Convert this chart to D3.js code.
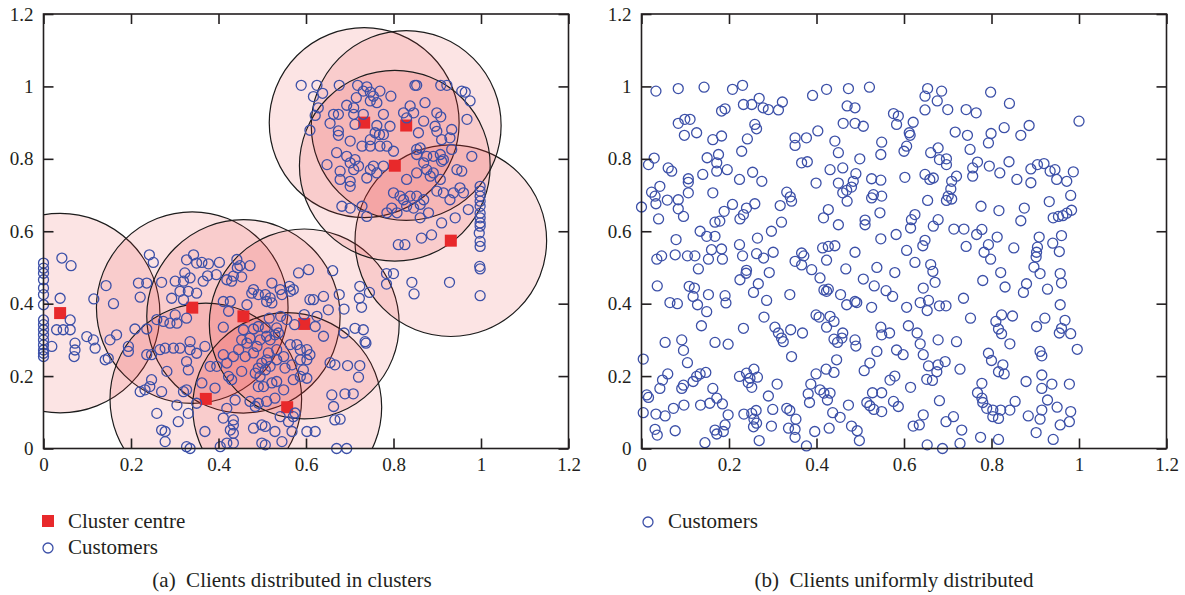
<!DOCTYPE html>
<html><head><meta charset="utf-8">
<script src="https://cdn.jsdelivr.net/npm/d3@7"></script>
<style>
body{margin:0;background:#fff}
svg{display:block}
text{font-family:"Liberation Serif","Times New Roman",serif;fill:#231f20}
</style>
</head><body>
<svg id="chart" width="1185" height="595"></svg>
<script>
const tickValues=[0,0.2,0.4,0.6,0.8,1,1.2];
const tickLabels=["0","0.2","0.4","0.6","0.8","1","1.2"];
const legendA=["Cluster centre","Customers"];
const legendB=["Customers"];
const captions=["(a)  Clients distributed in clusters","(b)  Clients uniformly distributed"];

const clusterCentres=[[0.038,0.374],[0.340,0.389],[0.457,0.365],[0.371,0.137],[0.557,0.114],[0.596,0.344],[0.931,0.574],[0.733,0.900],[0.829,0.892],[0.803,0.781]];
const clusterRadius=[0.228,0.219,0.221,0.219,0.216,0.217,0.219,0.217,0.217,0.218];

const clusteredCustomers=[
[0.589,1.003],[0.625,1.003],[0.676,1.003],[0.617,0.972],[0.638,0.981],[0.718,1.003],[0.739,0.999],[0.731,0.987],[0.747,0.984],[0.715,0.969],[0.754,0.973],[0.769,0.987],[0.794,0.973],[0.762,0.955],[0.747,0.960],[0.693,0.948],[0.709,0.941],[0.628,0.941],[0.621,0.920],[0.663,0.923],[0.674,0.923],[0.709,0.923],[0.731,0.923],[0.712,0.895],[0.655,0.898],[0.609,0.879],[0.674,0.877],[0.674,0.865],[0.701,0.849],[0.747,0.853],[0.758,0.872],[0.768,0.867],[0.777,0.867],[0.762,0.892],[0.792,0.890],[0.777,0.923],[0.728,0.835],[0.747,0.835],[0.769,0.835],[0.785,0.835],[0.800,0.821],[0.670,0.817],[0.693,0.807],[0.701,0.789],[0.712,0.798],[0.720,0.780],[0.648,0.784],[0.678,0.766],[0.678,0.743],[0.701,0.738],[0.701,0.724],[0.739,0.747],[0.747,0.770],[0.762,0.761],[0.777,0.780],[0.754,0.780],[0.709,0.770],
[0.849,1.003],[0.853,1.003],[0.908,1.003],[0.922,1.003],[0.956,0.987],[0.964,0.984],[0.975,0.960],[0.968,0.909],[0.872,0.955],[0.838,0.946],[0.823,0.927],[0.830,0.913],[0.846,0.927],[0.857,0.872],[0.869,0.904],[0.899,0.927],[0.908,0.916],[0.895,0.890],[0.899,0.876],[0.933,0.881],[0.929,0.858],[0.910,0.853],[0.853,0.826],[0.861,0.830],[0.853,0.812],[0.876,0.807],[0.891,0.807],[0.907,0.812],[0.910,0.793],[0.869,0.789],[0.876,0.770],[0.891,0.761],[0.914,0.798],[0.933,0.826],[0.945,0.770],[0.956,0.766],[0.979,0.807],[0.853,0.761],[0.884,0.752],[0.907,0.743],[0.830,0.743],[0.800,0.706],[0.815,0.697],[0.823,0.687],[0.838,0.697],[0.853,0.697],[0.869,0.687],[0.861,0.674],[0.830,0.669],[0.846,0.664],[0.899,0.711],[0.914,0.706],[0.929,0.687],[0.952,0.720],[0.960,0.706],[0.937,0.706],[0.971,0.660],[0.941,0.637],[0.880,0.651],[0.910,0.623],[0.861,0.637],[0.796,0.664],[0.808,0.651],[0.785,0.651],[0.739,0.641],[0.682,0.669],[0.701,0.664],[0.728,0.669],
[0.998,0.724],[0.998,0.711],[0.998,0.697],[0.998,0.683],[0.998,0.669],[0.998,0.650],[0.998,0.637],[0.998,0.623],[0.998,0.614],[0.996,0.595],[0.998,0.572],[0.998,0.558],[0.997,0.503],[0.998,0.496],[0.998,0.422],
[0.811,0.563],[0.826,0.563],[0.864,0.581],[0.887,0.590],[0.784,0.483],[0.800,0.483],[0.784,0.454],[0.842,0.459],[0.847,0.427],[0.928,0.459],
[0.661,0.491],[0.676,0.425],[0.687,0.385],[0.723,0.448],[0.745,0.431],[0.722,0.415],[0.727,0.390],[0.712,0.332],[0.731,0.328],[0.735,0.295],[0.737,0.291],[0.687,0.319],[0.655,0.237],[0.666,0.231],[0.695,0.229],[0.723,0.229],[0.720,0.197],[0.659,0.148],[0.689,0.151],[0.708,0.151],[0.663,0.116],[0.666,0.079],[0.678,0.081],[0.670,0.000],[0.693,0.000],
[0.000,0.512],[0.000,0.498],[0.000,0.484],[0.000,0.466],[0.000,0.443],[0.000,0.425],[0.000,0.397],[0.000,0.355],[0.000,0.342],[0.000,0.328],[0.000,0.314],[0.000,0.300],[0.000,0.286],[0.000,0.272],[0.000,0.263],[0.000,0.254],
[0.042,0.526],[0.063,0.505],[0.019,0.282],[0.038,0.415],[0.061,0.355],[0.030,0.328],[0.045,0.328],[0.061,0.328],[0.072,0.291],[0.072,0.272],[0.070,0.254],[0.099,0.309],
[0.242,0.535],[0.251,0.514],[0.143,0.450],[0.160,0.400],[0.115,0.413],[0.217,0.457],[0.236,0.457],[0.221,0.418],[0.270,0.459],[0.301,0.462],[0.320,0.462],[0.327,0.521],[0.343,0.535],[0.350,0.512],[0.362,0.514],[0.377,0.510],[0.323,0.485],[0.335,0.471],[0.365,0.462],[0.312,0.434],[0.331,0.434],[0.350,0.429],[0.293,0.415],[0.320,0.411],[0.259,0.356],[0.274,0.351],[0.289,0.346],[0.305,0.346],[0.327,0.360],[0.301,0.369],[0.209,0.330],[0.236,0.330],[0.167,0.314],[0.152,0.300],[0.114,0.300],[0.118,0.277],[0.141,0.245],[0.148,0.249],[0.194,0.282],[0.194,0.268],[0.236,0.259],[0.247,0.259],[0.266,0.273],[0.278,0.277],[0.297,0.277],[0.312,0.277],[0.335,0.295],[0.335,0.273],[0.350,0.263],[0.327,0.240],[0.331,0.217],[0.369,0.282],[0.282,0.213],[0.247,0.190],[0.243,0.171],[0.221,0.157],[0.232,0.162],[0.270,0.157],[0.320,0.157],[0.327,0.162],[0.350,0.125],[0.305,0.120],[0.331,0.097],[0.259,0.097],[0.308,0.074],[0.270,0.051],[0.278,0.047],[0.278,0.019],[0.327,0.005],[0.335,0.000],[0.369,0.047],
[0.402,0.514],[0.442,0.522],[0.443,0.499],[0.449,0.505],[0.472,0.505],[0.434,0.476],[0.453,0.474],[0.419,0.466],[0.430,0.462],[0.375,0.477],[0.395,0.480],[0.522,0.457],[0.480,0.439],[0.476,0.429],[0.491,0.425],[0.507,0.425],[0.518,0.416],[0.510,0.406],[0.522,0.402],[0.541,0.439],[0.545,0.425],[0.562,0.448],[0.564,0.434],[0.571,0.439],[0.583,0.485],[0.606,0.494],[0.609,0.411],[0.617,0.411],[0.640,0.420],[0.651,0.383],[0.596,0.370],[0.574,0.342],[0.516,0.360],[0.542,0.365],[0.556,0.356],[0.533,0.333],[0.537,0.319],[0.507,0.333],[0.491,0.337],[0.480,0.330],[0.465,0.397],[0.427,0.406],[0.411,0.406],[0.423,0.379],[0.411,0.335],[0.457,0.328],[0.472,0.305],[0.465,0.291],[0.488,0.282],[0.480,0.264],[0.453,0.300],[0.446,0.273],[0.461,0.254],[0.510,0.310],[0.518,0.300],[0.495,0.300],[0.529,0.314],[0.514,0.264],[0.533,0.273],[0.549,0.254],[0.564,0.287],[0.579,0.287],[0.587,0.273],[0.602,0.273],[0.587,0.245],[0.602,0.245],[0.609,0.259],[0.594,0.217],[0.602,0.194],[0.568,0.231],[0.552,0.222],[0.533,0.245],[0.510,0.245],[0.499,0.236],[0.491,0.222],[0.507,0.217],[0.518,0.227],[0.495,0.199],[0.484,0.208],[0.453,0.213],[0.434,0.254],[0.411,0.259],[0.419,0.236],[0.423,0.199],[0.381,0.227],[0.396,0.227],[0.362,0.181],[0.392,0.167],[0.430,0.190],[0.491,0.171],[0.503,0.171],[0.522,0.181],[0.533,0.185],[0.549,0.162],[0.571,0.190],[0.587,0.199],[0.621,0.337],[0.640,0.310],[0.625,0.365],[0.438,0.134],[0.472,0.130],[0.491,0.125],[0.484,0.116],[0.510,0.130],[0.529,0.139],[0.575,0.098],[0.571,0.088],[0.419,0.111],[0.411,0.084],[0.434,0.079],[0.434,0.065],[0.427,0.051],[0.434,0.042],[0.434,0.015],[0.419,0.015],[0.404,0.005],[0.480,0.056],[0.499,0.065],[0.507,0.061],[0.529,0.047],[0.545,0.019],[0.568,0.047],[0.602,0.047],[0.621,0.047],[0.499,0.015],[0.507,0.010],[0.541,0.088],[0.560,0.074]
];

const uniformCustomers=[
[0.033,0.987],[0.084,0.994],[0.143,0.998],[0.208,0.992],[0.231,1.003],[0.233,0.950],[0.252,0.950],[0.269,0.967],[0.278,0.941],[0.290,0.936],[0.313,0.935],[0.322,0.957],[0.183,0.932],[0.191,0.938],[0.084,0.898],[0.099,0.909],[0.111,0.909],[0.098,0.865],[0.126,0.872],[0.163,0.853],[0.183,0.863],[0.242,0.855],[0.259,0.895],[0.263,0.883],[0.229,0.821],[0.176,0.812],[0.150,0.803],[0.172,0.789],[0.172,0.766],[0.196,0.770],[0.140,0.757],[0.107,0.745],[0.107,0.735],[0.061,0.775],[0.069,0.766],[0.029,0.802],[0.016,0.784],[0.042,0.724],[0.023,0.708],[0.031,0.697],[0.033,0.676],[0.000,0.667],[0.059,0.686],[0.084,0.687],[0.084,0.662],[0.107,0.706],[0.096,0.641],[0.039,0.634],[0.163,0.706],[0.208,0.674],[0.189,0.655],[0.225,0.634],[0.233,0.646],[0.240,0.664],[0.259,0.676],[0.224,0.743],[0.254,0.763],[0.275,0.738],[0.168,0.625],[0.179,0.628],[0.317,0.671],[0.332,0.708],[0.340,0.695],[0.343,0.683],[0.320,0.625],[0.351,0.858],[0.351,0.837],[0.377,0.858],[0.366,0.789],[0.379,0.792],[0.391,0.975],[0.403,0.877],[0.423,0.992],[0.399,0.733],[0.431,0.770],[0.460,0.775],[0.442,0.849],[0.450,0.817],[0.461,0.898],[0.470,0.946],[0.488,0.941],[0.473,0.994],[0.488,0.898],[0.507,0.890],[0.521,0.998],[0.499,0.800],[0.490,0.759],[0.450,0.733],[0.460,0.706],[0.469,0.713],[0.480,0.722],[0.484,0.738],[0.470,0.683],[0.427,0.660],[0.416,0.637],[0.450,0.618],[0.511,0.631],[0.511,0.618],[0.526,0.692],[0.530,0.701],[0.549,0.697],[0.545,0.651],[0.547,0.741],[0.526,0.745],[0.549,0.846],[0.547,0.812],[0.576,0.925],[0.583,0.895],[0.587,0.918],
[0.654,0.994],[0.648,0.973],[0.686,0.987],[0.676,0.960],[0.700,0.936],[0.648,0.935],[0.621,0.901],[0.612,0.872],[0.614,0.865],[0.606,0.835],[0.600,0.821],[0.717,0.874],[0.745,0.865],[0.742,0.936],[0.765,0.927],[0.798,0.984],[0.841,0.953],[0.829,0.886],[0.799,0.870],[0.793,0.844],[0.751,0.826],[0.867,0.865],[0.886,0.892],[1.000,0.904],[0.678,0.830],[0.661,0.817],[0.681,0.798],[0.697,0.800],[0.697,0.784],[0.768,0.791],[0.757,0.775],[0.757,0.752],[0.795,0.780],[0.819,0.761],[0.840,0.792],[0.858,0.743],[0.890,0.772],[0.905,0.784],[0.920,0.787],[0.934,0.766],[0.945,0.770],[0.949,0.743],[0.972,0.738],[0.987,0.764],[0.890,0.734],[0.981,0.699],[0.932,0.682],[0.875,0.664],[0.867,0.629],[0.817,0.657],[0.776,0.669],[0.602,0.749],[0.648,0.757],[0.659,0.743],[0.667,0.747],[0.720,0.752],[0.709,0.738],[0.707,0.717],[0.701,0.697],[0.709,0.689],[0.697,0.685],[0.654,0.685],[0.625,0.646],[0.617,0.632],[0.615,0.609],[0.678,0.632],[0.667,0.614],[0.714,0.606],[0.737,0.606],[0.778,0.605],[0.941,0.637],[0.953,0.641],[0.963,0.643],[0.972,0.650],[0.983,0.658],
[0.134,0.600],[0.149,0.586],[0.168,0.586],[0.079,0.577],[0.160,0.549],[0.183,0.551],[0.153,0.523],[0.185,0.523],[0.130,0.496],[0.035,0.523],[0.046,0.532],[0.077,0.535],[0.105,0.532],[0.122,0.532],[0.036,0.449],[0.065,0.403],[0.082,0.400],[0.109,0.448],[0.121,0.443],[0.118,0.420],[0.128,0.397],[0.149,0.378],[0.153,0.425],[0.191,0.422],[0.193,0.402],[0.137,0.339],[0.054,0.293],[0.092,0.300],[0.096,0.271],[0.105,0.237],[0.004,0.247],[0.060,0.206],[0.048,0.189],[0.042,0.166],[0.012,0.148],[0.016,0.141],[0.004,0.099],[0.033,0.095],[0.054,0.090],[0.073,0.111],[0.097,0.120],[0.092,0.166],[0.096,0.175],[0.118,0.185],[0.126,0.199],[0.134,0.206],[0.147,0.210],[0.135,0.120],[0.156,0.125],[0.163,0.166],[0.172,0.139],[0.185,0.123],[0.198,0.093],[0.191,0.065],[0.168,0.051],[0.172,0.040],[0.187,0.047],[0.145,0.016],[0.168,0.293],[0.198,0.288],[0.031,0.053],[0.036,0.037],[0.077,0.049],[0.224,0.563],[0.231,0.532],[0.225,0.466],[0.240,0.492],[0.239,0.484],[0.256,0.431],[0.267,0.455],[0.265,0.581],[0.263,0.538],[0.279,0.526],[0.297,0.600],[0.301,0.542],[0.292,0.486],[0.286,0.409],[0.280,0.363],[0.233,0.332],[0.305,0.335],[0.313,0.319],[0.320,0.305],[0.324,0.295],[0.341,0.328],[0.339,0.425],[0.351,0.517],[0.366,0.540],[0.371,0.532],[0.366,0.507],[0.389,0.494],[0.368,0.319],[0.343,0.254],[0.224,0.199],[0.240,0.208],[0.248,0.194],[0.257,0.219],[0.265,0.197],[0.244,0.182],[0.252,0.169],[0.290,0.145],[0.310,0.178],[0.234,0.095],[0.252,0.097],[0.262,0.105],[0.257,0.081],[0.263,0.070],[0.256,0.060],[0.269,0.022],[0.300,0.108],[0.297,0.062],[0.332,0.111],[0.339,0.105],[0.353,0.081],[0.336,0.056],[0.351,0.053],[0.351,0.031],[0.377,0.007],[0.396,0.047],[0.381,0.151],[0.387,0.178],[0.384,0.127],[0.399,0.206],[0.408,0.162],[0.417,0.153],[0.425,0.134],[0.431,0.153],[0.422,0.219],[0.440,0.210],[0.446,0.245],[0.437,0.099],[0.454,0.086],[0.429,0.056],[0.473,0.120],[0.480,0.062],[0.493,0.049],[0.498,0.022],[0.399,0.369],[0.406,0.363],[0.431,0.365],[0.423,0.335],[0.440,0.351],[0.440,0.302],[0.448,0.293],[0.460,0.319],[0.458,0.305],[0.488,0.300],[0.490,0.283],[0.522,0.236],[0.509,0.215],[0.538,0.268],[0.547,0.335],[0.567,0.319],[0.583,0.272],[0.528,0.154],[0.515,0.127],[0.522,0.118],[0.531,0.108],[0.549,0.102],[0.549,0.154],[0.568,0.189],[0.579,0.200],[0.576,0.130],[0.587,0.116],[0.414,0.554],[0.427,0.558],[0.442,0.560],[0.423,0.520],[0.408,0.471],[0.417,0.438],[0.423,0.434],[0.427,0.440],[0.455,0.425],[0.467,0.496],[0.469,0.397],[0.488,0.406],[0.492,0.403],[0.488,0.542],[0.507,0.468],[0.526,0.390],[0.532,0.449],[0.538,0.500],[0.547,0.579],[0.549,0.314],[0.559,0.436],[0.574,0.420],[0.579,0.486],[0.582,0.591],
[0.766,0.591],[0.793,0.563],[0.813,0.584],[0.742,0.558],[0.783,0.542],[0.798,0.523],[0.851,0.554],[0.909,0.584],[0.905,0.556],[0.903,0.542],[0.902,0.529],[0.940,0.567],[0.960,0.588],[0.955,0.544],[0.897,0.501],[0.911,0.483],[0.957,0.483],[0.960,0.457],[0.928,0.440],[0.880,0.455],[0.873,0.431],[0.821,0.486],[0.831,0.446],[0.780,0.464],[0.736,0.415],[0.696,0.394],[0.681,0.394],[0.653,0.381],[0.656,0.409],[0.637,0.403],[0.671,0.459],[0.666,0.489],[0.661,0.508],[0.644,0.443],[0.625,0.514],[0.606,0.547],[0.643,0.560],[0.648,0.575],[0.606,0.390],[0.957,0.397],[0.922,0.360],[0.903,0.337],[0.968,0.354],[0.960,0.332],[0.955,0.319],[0.981,0.317],[0.996,0.274],[0.848,0.366],[0.823,0.369],[0.810,0.351],[0.816,0.330],[0.823,0.317],[0.842,0.289],[0.752,0.360],[0.720,0.295],[0.678,0.300],[0.610,0.339],[0.630,0.319],[0.637,0.289],[0.644,0.259],[0.656,0.228],[0.678,0.231],[0.694,0.240],[0.675,0.212],[0.652,0.191],[0.665,0.188],[0.598,0.259],[0.615,0.169],[0.728,0.219],[0.793,0.263],[0.800,0.243],[0.826,0.231],[0.816,0.212],[0.829,0.206],[0.778,0.180],[0.768,0.154],[0.778,0.139],[0.780,0.127],[0.789,0.111],[0.803,0.106],[0.821,0.106],[0.842,0.106],[0.854,0.130],[0.803,0.088],[0.816,0.083],[0.911,0.268],[0.915,0.256],[0.915,0.203],[0.915,0.166],[0.938,0.178],[0.978,0.178],[0.879,0.185],[0.928,0.134],[0.915,0.106],[0.950,0.114],[0.981,0.102],[0.911,0.081],[0.884,0.090],[0.978,0.074],[0.957,0.065],[0.902,0.044],[0.941,0.025],[0.681,0.132],[0.644,0.093],[0.621,0.062],[0.635,0.065],[0.696,0.074],[0.713,0.088],[0.732,0.051],[0.728,0.014],[0.653,0.010],[0.688,0.000],[0.775,0.031],[0.816,0.025]
];

const svg=d3.select("#chart");
const BLUE="#3c50a8", RED="#e8292b", INK="#231f20";
const plotTop=14, plotBottom=448.5;

function panel(id,left,right){
  const x=d3.scaleLinear().domain([0,1.2]).range([left,right]);
  const y=d3.scaleLinear().domain([0,1.2]).range([plotBottom,plotTop]);
  const g=svg.append("g").attr("id",id);
  g.append("clipPath").attr("id",id+"-clip").append("rect")
    .attr("x",left).attr("y",plotTop).attr("width",right-left).attr("height",plotBottom-plotTop);
  return {x,y,g};
}

function axes(p){
  const {x,y,g}=p;
  const fmt=(d)=>tickLabels[tickValues.indexOf(d)];
  const xa=g.append("g").attr("transform",`translate(0,${plotBottom})`)
    .call(d3.axisBottom(x).tickValues(tickValues).tickFormat(fmt).tickSize(-10).tickPadding(9));
  const xt=g.append("g").attr("transform",`translate(0,${plotTop})`)
    .call(d3.axisTop(x).tickValues(tickValues).tickFormat("").tickSize(-10));
  const ya=g.append("g").attr("transform",`translate(${x(0)},0)`)
    .call(d3.axisLeft(y).tickValues(tickValues).tickFormat(fmt).tickSize(-10).tickPadding(10));
  const yr=g.append("g").attr("transform",`translate(${x(1.2)},0)`)
    .call(d3.axisRight(y).tickValues(tickValues).tickFormat("").tickSize(-10));
  [xa,xt,ya,yr].forEach(a=>{
    a.select(".domain").remove();
    a.selectAll(".tick line").attr("stroke",INK).attr("stroke-width",1.6);
    a.selectAll(".tick text").attr("fill",INK).style("font-size","19px")
      .style("font-family",'"Liberation Serif","Times New Roman",serif');
  });
  g.append("rect").attr("x",x(0)).attr("y",plotTop).attr("width",x(1.2)-x(0)).attr("height",plotBottom-plotTop)
    .attr("fill","none").attr("stroke",INK).attr("stroke-width",1.6);
}

function customers(p,data){
  p.g.append("g").selectAll("circle").data(data).join("circle")
    .attr("cx",d=>p.x(d[0])).attr("cy",d=>p.y(d[1])).attr("r",5)
    .attr("fill","none").attr("stroke",BLUE).attr("stroke-width",1.3);
}

// Panel (a)
const A=panel("pa",43.5,568.5);
A.g.append("g").attr("clip-path","url(#pa-clip)")
  .selectAll("circle").data(clusterCentres).join("circle")
  .attr("cx",d=>A.x(d[0])).attr("cy",d=>A.y(d[1]))
  .attr("r",(d,i)=>A.x(clusterRadius[i])-A.x(0))
  .attr("fill","rgba(232,48,47,0.13)").attr("stroke","#1c1c1c").attr("stroke-width",1.2);
A.g.append("g").selectAll("rect").data(clusterCentres).join("rect")
  .attr("x",d=>A.x(d[0])-6).attr("y",d=>A.y(d[1])-6).attr("width",12).attr("height",12)
  .attr("fill",RED);
customers(A,clusteredCustomers);
axes(A);

// Panel (b)
const B=panel("pb",641.5,1166.5);
customers(B,uniformCustomers);
axes(B);

// Legends
const lg=svg.append("g").style("font-size","21px");
lg.append("rect").attr("x",42).attr("y",515).attr("width",12).attr("height",12).attr("fill",RED);
lg.append("text").attr("x",68).attr("y",528).text(legendA[0]);
lg.append("circle").attr("cx",48).attr("cy",548).attr("r",5).attr("fill","none").attr("stroke",BLUE).attr("stroke-width",1.3);
lg.append("text").attr("x",68).attr("y",554).text(legendA[1]);
lg.append("circle").attr("cx",648).attr("cy",522).attr("r",5).attr("fill","none").attr("stroke",BLUE).attr("stroke-width",1.3);
lg.append("text").attr("x",668).attr("y",528).text(legendB[0]);

// Captions
svg.append("text").attr("x",292).attr("y",587).attr("text-anchor","middle").style("font-size","21px").style("white-space","pre").text(captions[0]);
svg.append("text").attr("x",894).attr("y",587).attr("text-anchor","middle").style("font-size","21px").style("white-space","pre").text(captions[1]);
</script>
</body></html>
